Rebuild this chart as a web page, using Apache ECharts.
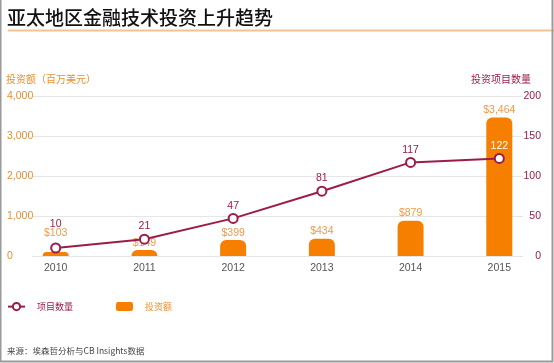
<!DOCTYPE html>
<html><head><meta charset="utf-8">
<script src="https://cdn.jsdelivr.net/npm/echarts@6/dist/echarts.min.js"></script>
<style>html,body{margin:0;padding:0;background:#fff}#c{width:554px;height:363px}</style>
</head><body><div id="c"></div>
<script>
const years = ['2010','2011','2012','2013','2014','2015'];
const investment = [103, 149, 399, 434, 879, 3464];
const projects = [10, 21, 47, 81, 117, 122];
const leftTicks = {min: 0, max: 4000, interval: 1000};
const rightTicks = {min: 0, max: 200, interval: 50};

const ORANGE = '#F77F00', ORANGE_TXT = '#E8902E', BAR_LBL = '#EE9A4C', CRIMSON = '#9B1C4A';
const FONT = "'Liberation Sans', Arial, 'Noto Sans CJK SC', sans-serif";
const CJK = "'Noto Sans CJK SC', sans-serif";
const NUM = 10.5;

const barData = investment.map((v, i) => i === 0 ? {value: v, label: {offset: [0, -12]}} : v);
const lineData = projects.map((v, i) => {
  if (i === 0) return {value: v, label: {offset: [0, -11]}};
  if (i === projects.length - 1) return {value: v, label: {color: '#fff'}};
  return v;
});

const chart = echarts.init(document.getElementById('c'), null, {renderer: 'canvas'});
chart.setOption({
  animation: false,
  backgroundColor: '#fff',
  textStyle: {fontFamily: FONT},
  grid: [
    {left: 32, right: 31, top: 96, bottom: 107},
    {left: 55.7, right: 54.7, top: 96, bottom: 107}
  ],
  xAxis: [
    {gridIndex: 0, type: 'category', data: years, show: false},
    {gridIndex: 1, type: 'category', data: years, boundaryGap: false,
     axisLine: {show: false}, axisTick: {show: false},
     axisLabel: {color: '#555', fontSize: NUM, margin: 7, fontFamily: FONT}}
  ],
  yAxis: [
    {gridIndex: 0, type: 'value', position: 'left', ...leftTicks,
     axisLine: {show: false}, axisTick: {show: false},
     splitLine: {lineStyle: {color: '#E6E6E6', width: 1}},
     axisLabel: {color: ORANGE_TXT, fontSize: NUM, align: 'left', margin: 25, fontFamily: FONT,
       formatter: v => v.toLocaleString('en-US')}},
    {gridIndex: 0, type: 'value', position: 'right', ...rightTicks,
     axisLine: {show: false}, axisTick: {show: false}, splitLine: {show: false},
     axisLabel: {color: CRIMSON, fontSize: NUM, align: 'right', margin: 18, fontFamily: FONT}},
    {gridIndex: 1, type: 'value', ...leftTicks, show: false},
    {gridIndex: 1, type: 'value', ...rightTicks, show: false}
  ],
  legend: {
    left: 7, top: 302, padding: 0, itemGap: 43, itemWidth: 17, itemHeight: 9,
    textStyle: {fontSize: 9, fontFamily: CJK, padding: [0, 0, 0, 7]},
    data: [
      {name: '项目数量', textStyle: {color: CRIMSON}},
      {name: '投资额', icon: 'roundRect', textStyle: {color: ORANGE_TXT}}
    ]
  },
  series: [
    {name: '投资额', type: 'bar', xAxisIndex: 1, yAxisIndex: 2, data: barData,
     barWidth: 26, itemStyle: {color: ORANGE, borderRadius: [6, 6, 0, 0]},
     label: {show: true, position: 'top', distance: 2, color: BAR_LBL, fontSize: NUM, fontFamily: FONT,
       formatter: p => '$' + p.value.toLocaleString('en-US')}},
    {name: '项目数量', type: 'line', xAxisIndex: 1, yAxisIndex: 3, data: lineData, z: 5,
     symbol: 'circle', symbolSize: 9,
     lineStyle: {color: CRIMSON, width: 2},
     itemStyle: {color: '#fff', borderColor: CRIMSON, borderWidth: 2},
     label: {show: true, position: 'top', distance: 2, color: CRIMSON, fontSize: NUM, fontFamily: FONT}}
  ],
  graphic: [
    {type: 'text', left: 7, top: 8, style: {text: '亚太地区金融技术投资上升趋势', fill: '#111', font: '500 19px ' + CJK}},
    {type: 'line', shape: {x1: 8, y1: 30.5, x2: 554, y2: 30.5}, style: {stroke: '#F2C38E', lineWidth: 2}},
    {type: 'text', left: 6, top: 74, style: {text: '投资额（百万美元）', fill: ORANGE_TXT, font: '10px ' + CJK}},
    {type: 'text', right: 23, top: 74, style: {text: '投资项目数量', fill: CRIMSON, font: '10px ' + CJK}},
    {type: 'text', left: 7, top: 347, style: {text: '来源：埃森哲分析与CB Insights数据', fill: '#444', font: '8.5px ' + CJK}},
    {type: 'polyline', shape: {points: [[0.5, 0], [0.5, 361.5], [552.5, 361.5], [552.5, 0]]},
     style: {stroke: '#9A9A9A', lineWidth: 2, fill: null}}
  ]
});
</script></body></html>
